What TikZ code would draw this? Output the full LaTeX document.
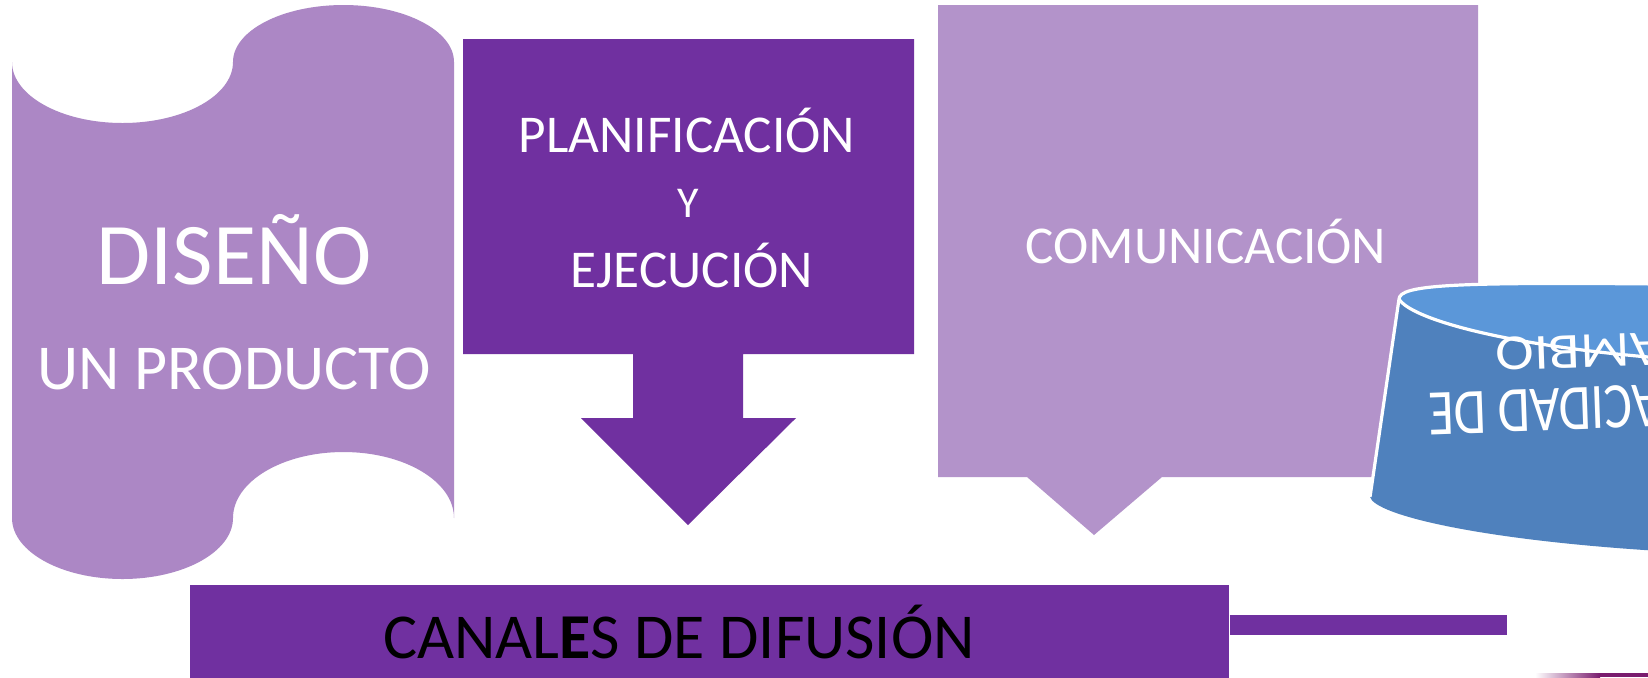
\documentclass[tikz,border=0pt]{standalone}
\usepackage{fontspec}
\setmainfont{Carlito}
\definecolor{scrollc}{RGB}{172,135,197}
\definecolor{comc}{RGB}{179,147,202}
\definecolor{darkp}{RGB}{112,48,160}
\definecolor{cylbody}{RGB}{79,129,189}
\definecolor{cyltop}{RGB}{91,151,217}
\definecolor{magend}{RGB}{122,28,110}
\begin{document}
\begin{tikzpicture}[x=0.5pt,y=-0.5pt,
  wtext/.style={text=white, inner sep=0pt, anchor=base},
  cylline/.style={draw=white, line width=1.6pt, line join=round}]
\useasboundingbox (0,0) rectangle (1648,677);
\clip (0,0) rectangle (1648,677);
\fill[white] (0,0) rectangle (1648,677);

% scroll shape
\fill[scrollc] (12,62) arc (180:0:110.5 and 61) arc (180:360:110.5 and 57)
  -- (454,518) arc (0:-180:110.5 and 66) arc (0:180:110.5 and 61) -- cycle;

% planificacion down-arrow callout
\fill[darkp] (463,39) -- (914,39) -- (914,354) -- (743,354) -- (743,418) -- (796,418)
  -- (688,525) -- (581,418) -- (633,418) -- (633,354) -- (463,354) -- cycle;

% comunicacion callout
\fill[comc] (938,5) -- (1478,5) -- (1478,477) -- (1162,477) -- (1094,535) -- (1027,477)
  -- (938,477) -- cycle;

% cylinder
\fill[cylbody] (1399,299) -- (1370,497) .. controls (1375,515) and (1480,540) .. (1660,551)
  -- (1660,290) -- cycle;
\fill[cyltop] (1399,299) .. controls (1400,285) and (1450,282) .. (1660,284) -- (1660,358)
  .. controls (1500,345) and (1410,318) .. (1399,299) -- cycle;
\draw[cylline] (1370,497) -- (1399,299) .. controls (1400,285) and (1450,282) .. (1660,284);
\draw[cylline] (1399,299) .. controls (1410,318) and (1500,345) .. (1660,358);

% canales box and line
\node[fill=darkp, minimum width=519.5pt, minimum height=55pt, inner sep=0pt,
  anchor=north west] (canales) at (190,585) {};
\coordinate (lineend) at (1507,625);
\draw[darkp, line width=10pt] (canales.north east |- lineend) -- (lineend);

% bottom-right strip
\shade[left color=white, right color=magend] (1535,673) rectangle (1600,677);
\fill[magend] (1600,673) rectangle (1648,677);

% texts
\node[wtext, font=\fontsize{44}{48}\selectfont] (diseno) at (234,284) {DISEÑO};
\node[wtext, font=\fontsize{32}{36}\selectfont] (producto) at (234,389) {UN PRODUCTO};
\node[wtext, font=\fontsize{26.6}{30}\selectfont] (plan) at (687,152) {PLANIFICACIÓN};
\node[wtext, font=\fontsize{22}{26}\selectfont] (yy) at (688,217) {Y};
\node[wtext, font=\fontsize{26.6}{30}\selectfont] (ejec) at (692,287) {EJECUCIÓN};
\node[wtext, font=\fontsize{26.6}{30}\selectfont] (comu) at (1206,263) {COMUNICACIÓN};
\node[wtext, anchor=base east, rotate=182, font=\fontsize{26}{30}\selectfont] (cap1)
  at (1428,393) {\scalebox{1}[1.25]{CAPACIDAD DE}};
\node[wtext, anchor=base east, rotate=182, font=\fontsize{29}{30}\selectfont] (cap2)
  at (1495,338) {\scalebox{1}[0.87]{CAMBIO}};
\node[anchor=base, inner sep=0pt, text=black, font=\fontsize{32}{39}\selectfont]
  (canalestext) at (679,658) {CANAL\textbf{E}S DE DIFUSIÓN};
\end{tikzpicture}
\end{document}
